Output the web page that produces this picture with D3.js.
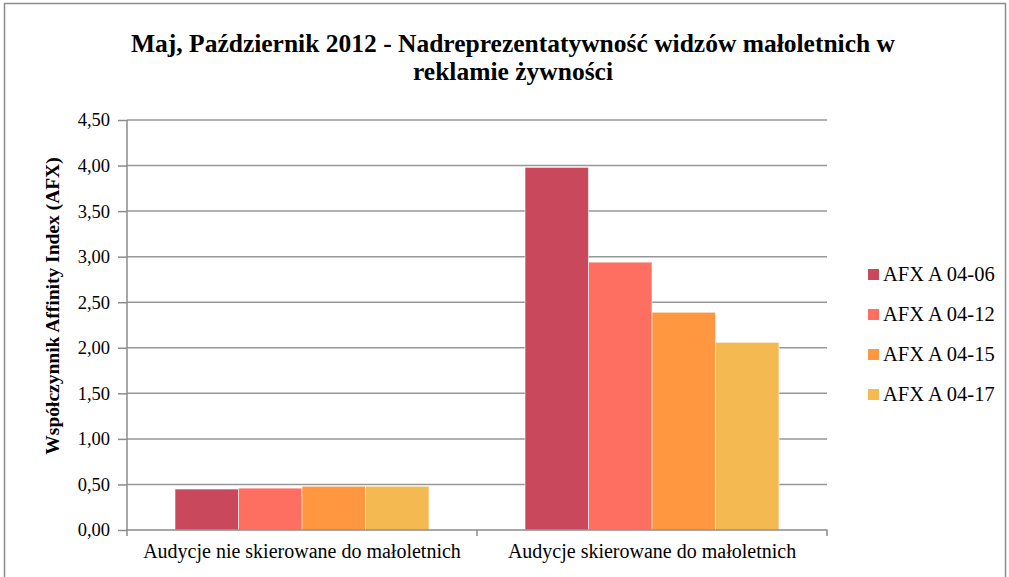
<!DOCTYPE html>
<html><head><meta charset="utf-8">
<script src="https://cdn.jsdelivr.net/npm/d3@7"></script>
<style>body{margin:0;background:#fff}svg{display:block}text{font-family:"Liberation Serif","Times New Roman",serif;fill:#000}</style>
</head><body><svg id="c" width="1009" height="577"></svg>
<script>
const categories = ["Audycje nie skierowane do małoletnich", "Audycje skierowane do małoletnich"];
const seriesNames = ["AFX A 04-06", "AFX A 04-12", "AFX A 04-15", "AFX A 04-17"];
const s0406 = [0.45, 3.98];
const s0412 = [0.46, 2.94];
const s0415 = [0.48, 2.39];
const s0417 = [0.48, 2.06];
const seriesValues = [s0406, s0412, s0415, s0417];
const colors = ["#C9485B", "#FF6F61", "#FF9640", "#F5B952"];
const yTicks = [0, 0.5, 1, 1.5, 2, 2.5, 3, 3.5, 4, 4.5];
const title = ["Maj, Październik 2012 - Nadreprezentatywność widzów małoletnich w", "reklamie żywności"];
const yTitle = "Współczynnik Affinity Index (AFX)";

const FF = '"Liberation Serif","Times New Roman",serif';
const svg = d3.select("#c");
svg.append("rect").attr("x",4.5).attr("y",3.5).attr("width",1001).attr("height",600)
  .attr("fill","#fff").attr("stroke","#8c8c8c").attr("stroke-width",1.5);

const L=127, R=827, T=120, B=530;
const x0 = d3.scaleBand().domain(categories).range([L,R]).paddingInner(0.2743).paddingOuter(0.1371);
const x1 = d3.scaleBand().domain(seriesNames).range([0,x0.bandwidth()]);
const y = d3.scaleLinear().domain([0,4.5]).range([B,T]);
const fmt = d => d3.format(".2f")(d).replace(".", ",");

// gridlines
svg.append("g").selectAll("line").data(yTicks.filter(d=>d>0)).join("line")
  .attr("x1",L).attr("x2",R).attr("y1",d=>y(d)).attr("y2",d=>y(d))
  .attr("stroke","#979797").attr("stroke-width",1.5);

// y axis
const ya = svg.append("g").attr("transform",`translate(${L},0)`)
  .call(d3.axisLeft(y).tickValues(yTicks).tickFormat(fmt).tickSize(9).tickPadding(8));
ya.attr("font-family",FF);
ya.select(".domain").attr("stroke","#8c8c8c").attr("stroke-width",1.5).attr("d",`M0,${T}V${B}`);
ya.selectAll(".tick line").attr("stroke","#8c8c8c").attr("stroke-width",1.5);
ya.selectAll(".tick text").style("font-family",FF).style("font-size","18.5px").attr("fill","#222");

// bars
const g = svg.append("g");
seriesNames.forEach((s,i)=>{
  g.append("g").selectAll("rect").data(categories).join("rect")
    .attr("x",c=>x0(c)+x1(s)).attr("width",x1.bandwidth())
    .attr("y",(c,j)=>y(seriesValues[i][j])).attr("height",(c,j)=>B-y(seriesValues[i][j]))
    .attr("fill",colors[i]).attr("stroke","rgba(255,255,255,0.6)").attr("stroke-width",1);
});

// x axis
const xa = svg.append("g").attr("transform",`translate(0,${B})`)
  .call(d3.axisBottom(x0).tickSize(0).tickPadding(14));
xa.attr("font-family",FF);
xa.select(".domain").attr("stroke","#8c8c8c").attr("stroke-width",1.5)
  .attr("d",`M${L},6V0H${R}V6`);
xa.selectAll(".tick text").style("font-family",FF).style("font-size","20px").attr("fill","#222");
svg.append("line").attr("x1",(L+R)/2).attr("x2",(L+R)/2).attr("y1",B).attr("y2",B+6).attr("stroke","#8c8c8c").attr("stroke-width",1.5);

// title
svg.append("g").selectAll("text").data(title).join("text")
  .attr("x",513).attr("y",(d,i)=>52+i*28).attr("text-anchor","middle")
  .style("font-size","25.5px").style("font-weight","bold").text(d=>d);

// y title
svg.append("text").attr("transform","translate(59,306) rotate(-90)").attr("text-anchor","middle")
  .style("font-size","19.5px").style("font-weight","bold").text(yTitle);

// legend
const lg = svg.append("g").selectAll("g").data(seriesNames).join("g")
  .attr("transform",(d,i)=>`translate(868,${274+i*40})`);
lg.append("rect").attr("x",0).attr("y",-5).attr("width",11).attr("height",11).attr("fill",(d,i)=>colors[i]);
lg.append("text").attr("x",15).attr("y",7).style("font-size","20.5px").attr("fill","#222").text(d=>d);
</script></body></html>
